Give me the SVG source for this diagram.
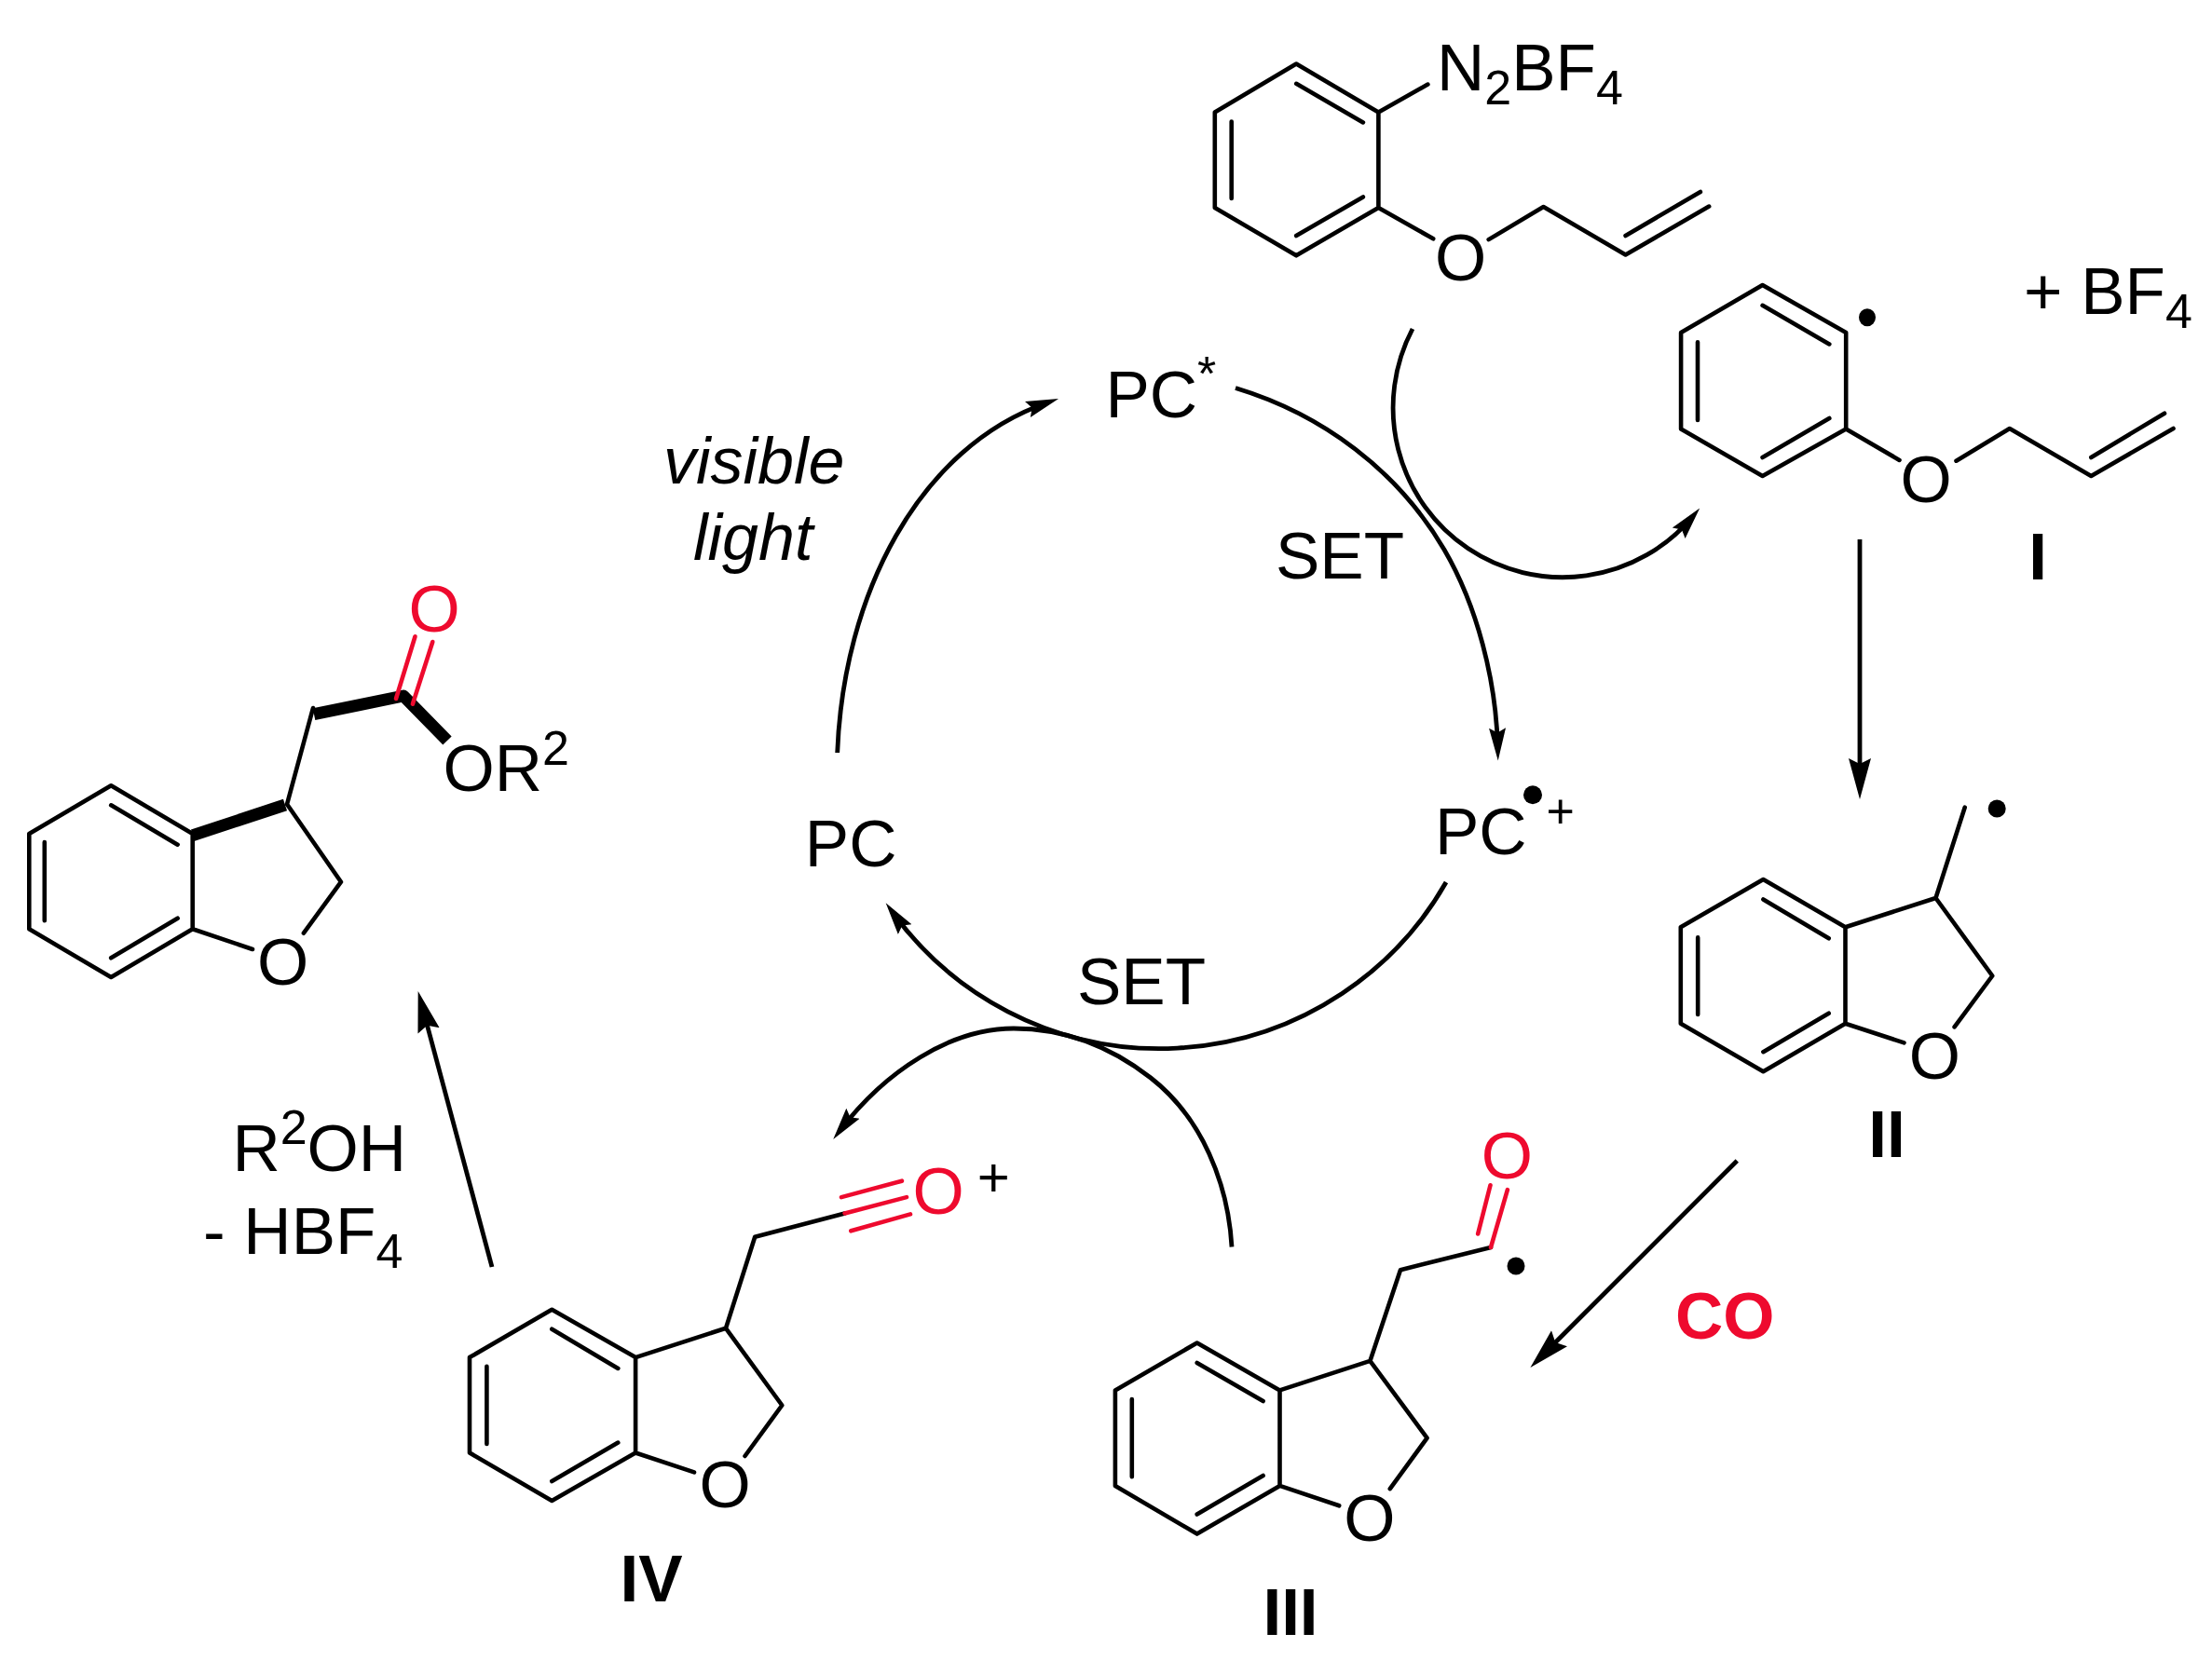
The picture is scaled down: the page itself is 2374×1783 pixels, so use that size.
<svg xmlns="http://www.w3.org/2000/svg" width="2374" height="1783" viewBox="0 0 2374 1783">
<style>
text{font-family:"Liberation Sans",Arial,sans-serif;font-size:71px;fill:#000}
.c{text-anchor:middle}
.sm{font-size:52px}
.b{font-weight:bold}
.i{font-style:italic;font-size:70px}
.r{fill:#ee0a2e}
.bond{fill:none;stroke:#000;stroke-width:4.6;stroke-linecap:round;stroke-linejoin:round}
.red{fill:none;stroke:#ee0a2e;stroke-width:4.6;stroke-linecap:round}
.thick{fill:none;stroke:#000;stroke-width:13;stroke-linejoin:round}
.arrow{fill:none;stroke:#000;stroke-width:4.8}
.s{marker-end:url(#hs)}
.l{marker-end:url(#hl)}
</style>
<defs>
<marker id="hs" markerUnits="userSpaceOnUse" orient="auto" markerWidth="36" markerHeight="20" refX="23" refY="10" viewBox="0 0 36 20"><path d="M0,1 L35,10 L0,19 L5,10Z" fill="#000"/></marker>
<marker id="hl" markerUnits="userSpaceOnUse" orient="auto" markerWidth="45" markerHeight="26" refX="30" refY="13" viewBox="0 0 45 26"><path d="M0,1 L44,13 L0,25 L6,13Z" fill="#000"/></marker>
</defs>
<rect width="2374" height="1783" fill="#fff"/>

<g id="connectors">
<path class="arrow s" d="M1516,353 A182,182 0 0 0 1816.5,554.7"/>
<path class="arrow s" d="M1326,416.5 C1420,445 1500,505 1550,590 C1585,650 1606,730 1607.5,804.5"/>
<path class="arrow s" d="M1552,947 A354,354 0 0 1 957.7,979"/>
<path class="arrow s" d="M898.7,808 C905,640 985,480 1124.7,432"/>
<path class="arrow s" d="M1322,1338.5 C1318,1270 1290,1200 1235,1157 C1190,1122 1140,1104 1088,1104 C1020,1104 950,1150 901.5,1213.5"/>
<path class="arrow l" d="M1996,579 L1996,844"/>
<path class="arrow l" d="M1864.3,1246 L1652.3,1458"/>
<path class="arrow l" d="M528,1360 L452.3,1077.5"/>
</g>

<g id="substrate">
<path class="bond" d="M1391.2,68.6 L1479.4,120.4 L1479.4,222.9 L1391.2,274.3 L1303.8,222.9 L1303.8,120.4 Z M1391.2,89.8 L1462.9,131.4 M1321.7,130.6 L1321.7,213 M1391.2,253 L1462.9,211.4 M1479.4,120.4 L1532.4,90.6 M1479.4,222.9 L1538.2,256.3 M1597.7,257.1 L1656.5,222 L1744.6,273.5 L1834.2,221.6 M1744.6,253 L1824.9,206"/>
<text x="1542" y="97">N<tspan class="sm" dy="15">2</tspan><tspan dy="-15">BF</tspan><tspan class="sm" dy="15">4</tspan></text>
<text class="c" x="1567.6" y="301">O</text>
</g>

<g id="intermediate-I">
<path class="bond" d="M1891.6,306 L1981.2,357 L1981.2,460.4 L1891.6,511 L1804.1,460.4 L1804.1,357 Z M1891.6,327.8 L1963.3,369.4 M1822,367.3 L1822,451 M1891.6,491 L1963.3,449 M1981.2,460.4 L2038.5,493.9 M2099.5,494.7 L2156.8,460 L2244.3,511 L2332.5,460 M2244.3,491 L2323,443.7"/>
<ellipse cx="2004" cy="340.8" rx="9" ry="9.5"/>
<text x="2172" y="336.7">+ BF<tspan class="sm" dy="15">4</tspan></text>
<text class="c" x="2067.2" y="539">O</text>
<text class="c b" x="2187" y="622">I</text>
</g>

<g id="intermediate-II">
<path class="bond" d="M1892.4,944 L1980.5,995.3 L1980.5,1098.8 L1892.4,1150.2 L1803.8,1098.8 L1803.8,995.3 Z M1892.4,965.4 L1962.7,1007.3 M1822.2,1006.4 L1822.2,1089 M1892.4,1129.2 L1962.7,1087.7 M1980.5,995.3 L2077.5,964 L2138.3,1047.5 L2097.6,1102.4 M1980.5,1098.8 L2043.5,1119.4 M2077.5,964 L2108.7,866.7"/>
<ellipse cx="2143.2" cy="868" rx="9.5" ry="9.5"/>
<text class="c" x="2076.4" y="1158">O</text>
<text class="c b" x="2025" y="1241.7">II</text>
</g>

<g id="intermediate-III">
<path class="bond" d="M1284.7,1441.5 L1373.5,1492.4 L1373.5,1594.9 L1284.7,1646.6 L1196.9,1594.9 L1196.9,1492.4 Z M1284.7,1462.9 L1355.6,1504 M1214.8,1502 L1214.8,1585.2 M1284.7,1625.6 L1355.6,1584 M1373.5,1492.4 L1470.4,1460.9 L1531.6,1543.6 L1491.8,1598.1 M1373.5,1594.9 L1437.2,1616.3 M1470.4,1460.9 L1503,1363.2 L1600,1339"/>
<path class="red" d="M1600,1339 L1617.9,1277.2 M1586.2,1324.4 L1599.5,1272.3"/>
<ellipse cx="1627" cy="1359" rx="9.5" ry="9.5"/>
<text class="c" x="1469.9" y="1654">O</text>
<text class="c r" x="1617.3" y="1265">O</text>
<text class="c b" x="1385" y="1755">III</text>
</g>

<g id="intermediate-IV">
<path class="bond" d="M592.3,1405.7 L682.1,1457.1 L682.1,1559.5 L592.3,1610.9 L504,1559.5 L504,1457.1 Z M592.3,1426.7 L663.3,1468.9 M522.4,1466.7 L522.4,1550 M592.3,1590 L663.3,1548.6 M682.1,1457.1 L779,1425.8 L839.3,1508.5 L799.5,1563 M682.1,1559.5 L745,1580.4 M779,1425.8 L810.2,1327.8 L906.6,1302.5"/>
<path class="red" d="M906.6,1302.5 L973,1285.1 M903,1285.1 L967.9,1267.7 M913.3,1321.3 L977,1303.4"/>
<text class="c" x="778" y="1618">O</text>
<text class="c r" x="1007.1" y="1303">O</text>
<text style="font-size:60px" x="1048.8" y="1284.3">+</text>
<text class="c b" x="699" y="1719">IV</text>
</g>

<g id="product">
<path class="bond" d="M119.2,843.3 L206.7,895 L206.7,997.3 L119.2,1049 L31.3,997.3 L31.3,895 Z M119.2,864.3 L190.6,906.7 M47.8,904 L47.8,988.3 M119.2,1028.3 L190.6,985.7 M308,863.3 L336,760 M308,863.3 L366,946.7 L325.9,1001.7 M206.7,997.3 L271,1019"/>
<path class="thick" d="M207,896.7 L306,864"/>
<path class="thick" d="M337,766.7 L433,747 L480,795"/>
<path class="red" d="M425,750 L445.5,683.3 M442.9,755.7 L464.3,689"/>
<text class="c" x="303.6" y="1057">O</text>
<text class="c r" x="466" y="677.5">O</text>
<text x="475.6" y="849.3">OR<tspan class="sm" dy="-28">2</tspan></text>
</g>

<g id="PC-star"><text x="1186.4" y="448">PC</text><text class="sm" x="1285" y="419">*</text></g>
<g id="PC"><text x="863.8" y="930">PC</text></g>
<g id="PC-radical-cation"><text x="1540" y="917">PC</text><ellipse cx="1645" cy="853.3" rx="10" ry="10"/><text class="sm" x="1659.5" y="889">+</text></g>
<g id="labels">
<text x="1369" y="620.6">SET</text>
<text x="1156" y="1078">SET</text>
<text class="i" x="712" y="518.6">visible</text>
<text class="i" x="744" y="601">light</text>
<text class="b r" x="1798" y="1437">CO</text>
<text x="249.4" y="1256.7">R<tspan class="sm" dy="-28.7">2</tspan><tspan dy="28.7">OH</tspan></text>
<text x="218" y="1346">- HBF<tspan class="sm" dy="14.7">4</tspan></text>
</g>
</svg>
